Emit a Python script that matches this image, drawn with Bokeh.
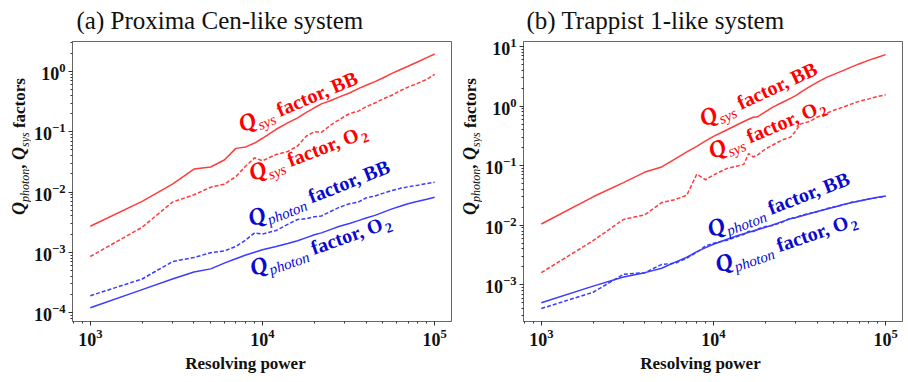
import math
from bokeh.plotting import figure
from bokeh.models import Range1d, Label
from bokeh.layouts import row, column
from bokeh.embed import file_html
from bokeh.resources import INLINE

# ---------------- data ----------------
R_a = [1000, 2000, 3000, 4000, 5000, 6000, 7000, 8000, 9000, 10000, 12000, 14000,
       16000, 18000, 20000, 22000, 25000, 28000, 32000, 36000, 40000, 45000, 50000,
       56000, 63000, 70000, 80000, 90000, 100000]
qsys_bb_a = [2.7e-3, 7.0e-3, 0.0135, 0.024, 0.026, 0.034, 0.053, 0.056, 0.065, 0.078,
             0.11, 0.14, 0.17, 0.21, 0.25, 0.29, 0.33, 0.38, 0.44, 0.52, 0.59, 0.68,
             0.78, 0.92, 1.07, 1.22, 1.45, 1.7, 1.95]
qsys_o2_a = [8.5e-4, 2.6e-3, 6.8e-3, 9.0e-3, 0.012, 0.0135, 0.018, 0.027, 0.037, 0.033,
             0.042, 0.047, 0.058, 0.085, 0.1, 0.098, 0.13, 0.16, 0.2, 0.22, 0.26, 0.3,
             0.35, 0.4, 0.48, 0.55, 0.64, 0.74, 0.9]
qph_bb_a = [1.9e-4, 3.6e-4, 7.0e-4, 8.2e-4, 9.8e-4, 1.05e-3, 1.25e-3, 1.6e-3, 2.1e-3,
            2.0e-3, 2.3e-3, 2.9e-3, 3.5e-3, 3.6e-3, 3.9e-3, 4.0e-3, 4.8e-3, 5.6e-3,
            6.4e-3, 6.8e-3, 8.0e-3, 8.6e-3, 9.5e-3, 1.05e-2, 1.15e-2, 1.22e-2, 1.3e-2,
            1.38e-2, 1.45e-2]
qph_o2_a = [1.2e-4, 2.4e-4, 3.6e-4, 4.7e-4, 5.3e-4, 6.6e-4, 7.8e-4, 9.0e-4, 1.0e-3,
            1.1e-3, 1.25e-3, 1.4e-3, 1.55e-3, 1.75e-3, 1.95e-3, 2.1e-3, 2.4e-3, 2.7e-3,
            3.0e-3, 3.35e-3, 3.7e-3, 4.1e-3, 4.6e-3, 5.2e-3, 5.8e-3, 6.4e-3, 7.0e-3,
            7.6e-3, 8.2e-3]

R_b = [1000, 2000, 3000, 4000, 5000, 6000, 7000, 8000, 9000, 10000, 12000, 14000,
       15000, 16000, 17000, 18000, 20000, 22000, 25000, 28000, 30000, 32000, 36000,
       40000, 45000, 50000, 56000, 63000, 70000, 80000, 90000, 100000]
qsys_bb_b = [0.0105, 0.03, 0.052, 0.078, 0.095, 0.13, 0.17, 0.21, 0.26, 0.31, 0.4, 0.5,
             0.55, 0.6, 0.65, 0.66, 0.8, 0.95, 1.15, 1.35, 1.5, 1.7, 2.1, 2.5, 3.0,
             3.4, 3.9, 4.5, 5.1, 5.9, 6.6, 7.3]
qsys_o2_b = [1.6e-3, 5.5e-3, 0.0125, 0.015, 0.024, 0.027, 0.032, 0.072, 0.058, 0.07,
             0.09, 0.1, 0.105, 0.16, 0.14, 0.15, 0.19, 0.22, 0.27, 0.3, 0.38, 0.5, 0.55,
             0.65, 0.75, 0.85, 0.95, 1.08, 1.2, 1.32, 1.45, 1.55]
qph_bb_b = [4.0e-4, 7.5e-4, 1.5e-3, 1.6e-3, 2.2e-3, 2.3e-3, 2.8e-3, 3.5e-3, 4.5e-3,
            5.0e-3, 5.6e-3, 6.6e-3, 7.0e-3, 7.9e-3, 7.8e-3, 8.6e-3, 9.5e-3, 9.9e-3,
            0.0112, 0.0132, 0.0133, 0.0145, 0.0158, 0.0168, 0.0188, 0.0203, 0.0218,
            0.0242, 0.0252, 0.0277, 0.0292, 0.0305]
qph_o2_b = [5.0e-4, 9.5e-4, 1.35e-3, 1.6e-3, 1.9e-3, 2.4e-3, 2.9e-3, 3.6e-3, 4.2e-3,
            4.8e-3, 5.8e-3, 6.8e-3, 7.2e-3, 7.6e-3, 8.0e-3, 8.4e-3, 9.2e-3, 0.0101,
            0.0115, 0.0128, 0.0135, 0.0142, 0.0156, 0.017, 0.0186, 0.02, 0.022, 0.0238,
            0.0255, 0.0275, 0.0295, 0.031]

titles = ["(a) Proxima Cen-like system", "(b) Trappist 1-like system"]
x_label = "Resolving power"

# ---------------- style ----------------
FONT = "Liberation Serif"
RED_LINE = "#ff3c3c"
BLUE_LINE = "#3c3cff"
RED_TXT = "#ff0000"
BLUE_TXT = "#0a0acc"
FRAME = "#666666"
INK = "#111111"
MID = 0.3375  # distance (em) from the vertical middle of a text box to its baseline

W = {
    "bold": {' ': 250, ',': 250, 'a': 500, 'c': 444, 'f': 333, 'o': 500, 'r': 444,
             's': 389, 't': 333, 'B': 667, 'O': 778, 'R': 722, 'e': 444, 'l': 278,
             'v': 500, 'i': 278, 'n': 556, 'g': 500, 'p': 556, 'w': 722,
             'h': 556, 'y': 500, 'Q': 778},
    "italic": {'Q': 722, 's': 389, 'y': 444, 'p': 500, 'h': 500, 'o': 500, 't': 278,
               'n': 500},
    "bold italic": {'Q': 722, 's': 389, 'y': 444, 'p': 500, 'h': 556, 'o': 500,
                    't': 278, 'n': 556, ' ': 250},
}


def tw(text, style, size):
    return sum(W[style].get(ch, 500) for ch in text) * size / 1000.0


def rich(p, x, y, angle, pieces, color):
    """Place text pieces along a rotated baseline that starts at (x, y)."""
    th = math.radians(angle)
    d = 0.0
    for text, style, size, shift in pieces:
        while text.startswith(" "):
            d += tw(" ", style, size)
            text = text[1:]
        s = shift - MID * size
        xo = d * math.cos(th) + s * math.sin(th)
        yo = d * math.sin(th) - s * math.cos(th)
        p.add_layout(Label(x=x, y=y, x_offset=xo, y_offset=yo, angle=th,
                           angle_units="rad", text=text, text_font=FONT,
                           text_font_style=style, text_font_size=f"{size}px",
                           text_color=color, text_baseline="middle",
                           text_align="left"))
        d += tw(text, style, size)


def curve_label(sub, tail, o2):
    pcs = [("Q", "bold italic", 24, 0), (sub, "italic", 15, 5),
           (" factor, " + tail, "bold", 20, 0)]
    if o2:
        pcs.append(("2", "bold", 14, 4))
    return pcs


def strip(width, height):
    s = figure(width=width, height=height, x_range=Range1d(0, width),
               y_range=Range1d(0, height), x_axis_location=None,
               y_axis_location=None, min_border=0, outline_line_color=None,
               toolbar_location=None, output_backend="svg",
               background_fill_color="white", border_fill_color="white")
    s.grid.visible = False
    return s


TOP_H = 34
PH = 321  # panel height: 7 top border + 280 frame + 34 bottom border


def ylabel_strip(width, base_x, start_y):
    s = strip(width, PH)
    rich(s, base_x, start_y, 90,
         [("Q", "bold italic", 18, 0), ("photon", "italic", 12, 4),
          (",", "bold", 17, 0), (" Q", "bold italic", 18, 0),
          ("sys", "italic", 12, 4), (" factors", "bold", 17, 0)], INK)
    return s


def make_panel(R, s_bb, s_o2, p_bb, p_o2, yr, width, bl, br, lab_pos):
    p = figure(width=width, height=PH, x_axis_type="log", y_axis_type="log",
               x_range=Range1d(10 ** 2.8966, 10 ** 5.0977), y_range=Range1d(*yr),
               output_backend="svg", toolbar_location=None,
               min_border_left=bl, min_border_right=br, min_border_top=7,
               min_border_bottom=34, background_fill_color="white",
               border_fill_color="white")
    p.outline_line_color = FRAME
    p.outline_line_width = 1
    p.xgrid.visible = False
    p.ygrid.visible = False
    for ax in (p.xaxis[0], p.yaxis[0]):
        ax.axis_line_color = FRAME
        ax.major_tick_line_color = "#333333"
        ax.minor_tick_line_color = "#333333"
        ax.major_tick_out = 4
        ax.major_tick_in = 0
        ax.minor_tick_out = 2
        ax.minor_tick_in = 0
        ax.major_label_text_font = FONT
        ax.major_label_text_font_style = "bold"
        ax.major_label_text_font_size = "18px"
        ax.major_label_text_color = INK
    p.xaxis.major_label_standoff = 3
    p.yaxis.major_label_standoff = 3

    p.line(R, s_bb, line_color=RED_LINE, line_width=1.5)
    p.line(R, s_o2, line_color=RED_LINE, line_width=1.5, line_dash="4 2")
    p.line(R, p_bb, line_color=BLUE_LINE, line_width=1.5, line_dash="4 2")
    p.line(R, p_o2, line_color=BLUE_LINE, line_width=1.5)

    (x1, y1, a1), (x2, y2, a2), (x3, y3, a3), (x4, y4, a4) = lab_pos
    rich(p, x1, y1, a1, curve_label("sys", "BB", False), RED_TXT)
    rich(p, x2, y2, a2, curve_label("sys", "O", True), RED_TXT)
    rich(p, x3, y3, a3, curve_label("photon", "BB", False), BLUE_TXT)
    rich(p, x4, y4, a4, curve_label("photon", "O", True), BLUE_TXT)
    return p


# title strip (page y 0..34), baselines at about page y 28.5
top = strip(905, TOP_H)
for tx, t in zip([76, 526], titles):
    top.add_layout(Label(x=tx, y=5.5 + MID * 25, text=t, text_align="left",
                         text_baseline="middle", text_font=FONT,
                         text_font_style="normal", text_font_size="25px",
                         text_color=INK))

# panels (page y 34..355); frames at x 68..451 and 519..902, y 41..321
ya = ylabel_strip(31, 25, 122)
pa = make_panel(R_a, qsys_bb_a, qsys_o2_a, qph_bb_a, qph_o2_a,
                (10 ** -4.149, 10 ** 0.498), 423, 37, 3,
                [(7660, 0.097, 23), (8750, 0.015, 21), (8670, 2.65e-3, 21.5),
                 (8850, 4.0e-4, 19.5)])
yb = ylabel_strip(28, 22, 122)
pb = make_panel(R_b, qsys_bb_b, qsys_o2_b, qph_bb_b, qph_o2_b,
                (10 ** -3.616, 10 ** 1.084), 423, 37, 3,
                [(8800, 0.445, 25), (9880, 0.128, 23), (9680, 6.2e-3, 21),
                 (10700, 1.58e-3, 19)])

# x-label strip (page y 355..380), baselines at about page y 369
bot = strip(905, 25)
for cx in [245, 700]:
    bot.add_layout(Label(x=cx, y=11 + MID * 17, text=x_label, text_align="center",
                         text_baseline="middle", text_font=FONT,
                         text_font_style="bold", text_font_size="17px",
                         text_color=INK))

layout = column(top, row(ya, pa, yb, pb), bot)
open("out.html", "w").write(file_html(layout, INLINE))
